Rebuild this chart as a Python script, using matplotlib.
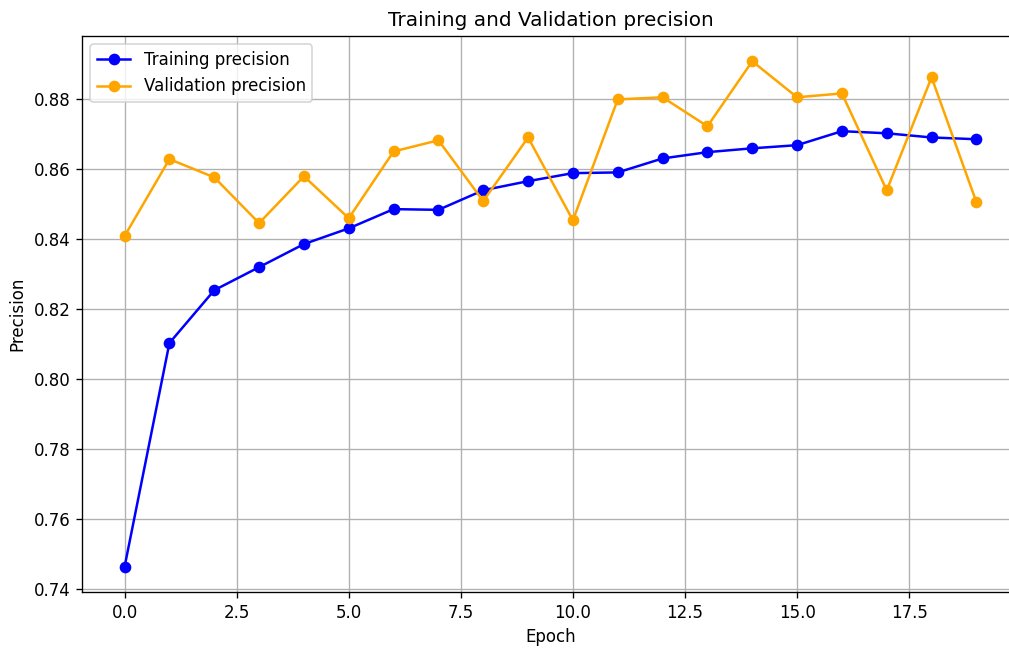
import matplotlib
matplotlib.use("Agg")
import matplotlib.pyplot as plt

epochs = list(range(20))
train_precision = [0.7463, 0.8103, 0.8254, 0.8320, 0.8386, 0.8431, 0.8486, 0.8484, 0.8540, 0.8566,
                   0.8589, 0.8591, 0.8631, 0.8649, 0.8660, 0.8669, 0.8709, 0.8703, 0.8691, 0.8686]
val_precision = [0.8409, 0.8629, 0.8577, 0.8446, 0.8580, 0.8460, 0.8651, 0.8683, 0.8509, 0.8691,
                 0.8454, 0.8800, 0.8806, 0.8723, 0.8909, 0.8806, 0.8817, 0.8540, 0.8863, 0.8506]

W, H = 1009, 648
fig = plt.figure(figsize=(W/120, H/120), dpi=120)
ax = fig.add_axes([82/W, 1-592/H, (1019-82)/W, (592-36)/H])
ax.plot(epochs, train_precision, 'o-', color='blue', label='Training precision')
ax.plot(epochs, val_precision, 'o-', color='orange', label='Validation precision')
ax.set_title('Training and Validation precision')
ax.set_xlabel('Epoch')
ax.set_ylabel('Precision')
ax.legend(loc='upper left')
ax.grid(True)
fig.savefig('out.png', dpi=120)
